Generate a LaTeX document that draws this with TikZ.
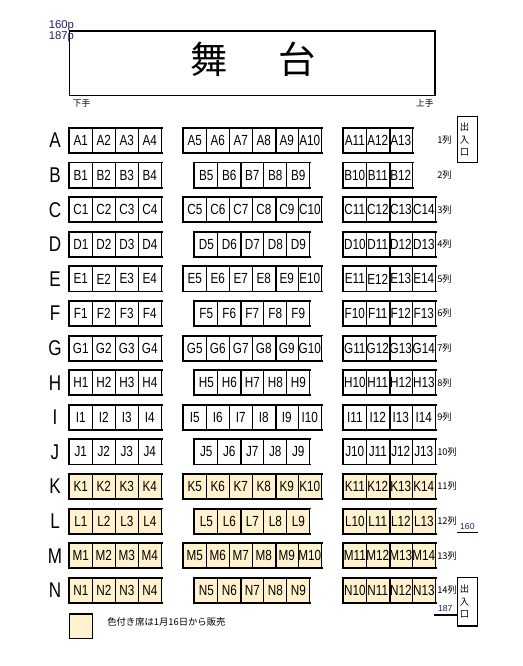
\documentclass[tikz,border=0pt]{standalone}
\usepackage{fontspec}
\setmainfont{Liberation Sans}
\newfontfamily\jpfont{Noto Sans CJK JP}
\newfontfamily\narrowfont[FakeStretch=0.8]{Liberation Sans}
\definecolor{soldseat}{RGB}{255, 242, 204}
\definecolor{notecol}{RGB}{40, 30, 110}
\tikzset{
  seat/.style={draw, line width=0.6pt, minimum width=17.25pt, minimum height=18.3pt,
    inner sep=0pt, font=\narrowfont\fontsize{11}{11}\selectfont},
  blockedge/.style={line width=1.4pt, line cap=rect},
  rowletter/.style={font=\narrowfont\fontsize{16}{16}\selectfont},
  rownum/.style={anchor=west, inner sep=0pt, font=\jpfont\fontsize{7}{7}\selectfont},
  exitbox/.style={draw, line width=1pt, inner xsep=2pt, inner ysep=0pt, text width=11pt,
    align=left, font=\jpfont\fontsize{7}{9.4}\selectfont},
  smallnote/.style={inner sep=0pt, text=notecol, font=\fontsize{6.5}{6.5}\selectfont}
}

\begin{document}
\begin{tikzpicture}[x=0.75pt, y=-0.75pt]
		\useasboundingbox (0,0) rectangle (523,666);
		\def\sw{23}     % seat width
		\def\ya{140.5}  % centre of row A
		\def\rp{34.6}   % row pitch
		\def\xa{69.3}   % left edge, left block
		\def\xb{183.3}  % left edge, centre block
		\def\xc{343.3}  % left edge, right block
		
		% --- stage ---
		\node[draw, line width=1.1pt, minimum width=274.3pt, minimum height=48.5pt, inner sep=0pt]
			(stage) at (252.2,63.4) {};
		\node[font=\jpfont\fontsize{28}{28}\selectfont, inner sep=0pt] (stagetxt) at (252.7,59.5)
			{舞\hspace{38pt}台};
		\node[font=\fontsize{8.5}{8.5}\selectfont, text=notecol, anchor=west, inner sep=0pt]
			(note160p) at (48.5,26) {160p};
		\node[font=\fontsize{8.5}{8.5}\selectfont, text=notecol, anchor=west, inner sep=0pt]
			(note187p) at (48.5,37) {187p};
		\node[font=\jpfont\fontsize{6.5}{6.5}\selectfont, anchor=north west, inner sep=0pt]
			(shimote) at (stage.south west) [xshift=3pt, yshift=-2pt] {下手};
		\node[font=\jpfont\fontsize{6.5}{6.5}\selectfont, anchor=north east, inner sep=0pt]
			(kamite) at (stage.south east) [xshift=-1.5pt, yshift=-2pt] {上手};
		
		% --- seat rows ---
		\foreach \r [count=\i from 0] in {A,B,C,D,E,F,G,H,I,J,K,L,M,N} {
			\pgfmathsetmacro\y{\ya+\i*\rp}
			\pgfmathtruncatemacro\odd{mod(\i,2)}
			\pgfmathtruncatemacro\k{\i+1}
			\ifnum\i>9 \def\sc{soldseat}\else\def\sc{white}\fi
			
			% row letter and row number
			\node[rowletter] (row\r) at (55,\y) {\r};
			\node[rownum] (num\r) at (437,\y) {\k 列};
			
			% left block (1-4)
			\foreach \n in {1,...,4}
				\node[seat, fill=\sc] (\r\n) at ({\xa+(\n-0.5)*\sw},\y) {\r\n};
			\draw[blockedge] (\r1.south west) -- (\r1.north west) -- (\r4.north east);
			\draw[blockedge] (\r1.south west) -- (\r4.south east);
			
			% centre block (5-9 or 5-10)
			\ifnum\odd=1
				\def\mlast{9}\def\moff{0.5}\def\msep{6}
			\else
				\def\mlast{10}\def\moff{0}\def\msep{8}
			\fi
			\foreach \n in {5,...,\mlast}
				\node[seat, fill=\sc] (\r\n) at ({\xb+(\moff+\n-4.5)*\sw},\y) {\r\n};
			\draw[blockedge] (\r5.south west) -- (\r5.north west) -- (\r\mlast.north east);
			\draw[blockedge] (\r5.south west) -- (\r\mlast.south east);
			\draw[blockedge] (\r\msep.north east) -- (\r\msep.south east);
			
			% right block
			\pgfmathtruncatemacro\rfirst{11-\odd}
			\pgfmathtruncatemacro\rlast{\i<2 ? \rfirst+2 : \rfirst+3}
			\pgfmathtruncatemacro\rsep{\rfirst+1}
			\foreach \n in {\rfirst,...,\rlast}
				\node[seat, fill=\sc] (\r\n) at ({\xc+(\n-\rfirst+0.5)*\sw},\y) {\r\n};
			\draw[blockedge] (\r\rfirst.south west) -- (\r\rfirst.north west) -- (\r\rlast.north east);
			\draw[blockedge] (\r\rfirst.south west) -- (\r\rlast.south east);
			\draw[blockedge] (\r\rsep.north east) -- (\r\rsep.south east);
		}
		
		% --- exits ---
		\node[exitbox, minimum height=34.5pt] (exitT) at (467.3,139.7) {出\\入\\口};
		\node[exitbox, minimum height=36.5pt] (exitB) at (467.3,601.7) {出\\入\\口};
		
		% --- measures ---
		\coordinate (m160a) at (457,532.7);
		\coordinate (m160b) at (477.7,532.7);
		\draw[line width=0.6pt] (m160a) -- (m160b) node[smallnote, midway, above=2pt] (t160) {160};
		\coordinate (m187a) at (434,615);
		\coordinate (m187b) at (exitB.west |- m187a);
		\draw[line width=1.2pt] (m187a) -- (m187b) node[smallnote, midway, above=2pt] (t187) {187};
		
		% --- legend ---
		\node[seat, fill=soldseat, line width=1.4pt] (legbox) at (81,626.3) {};
		\node[font=\jpfont\fontsize{7}{7}\selectfont, anchor=west, inner sep=0pt]
			(legtxt) at (107,622) {色付き席は1月16日から販売};
		
	\end{tikzpicture}
\end{document}
